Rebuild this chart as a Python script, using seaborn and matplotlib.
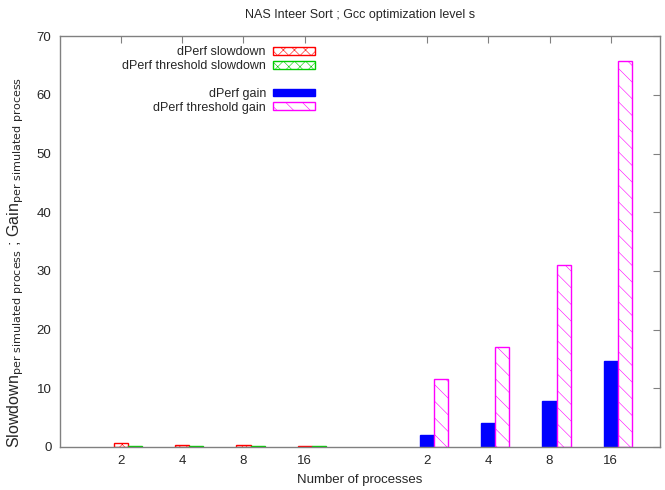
import numpy as np
import pandas as pd
import matplotlib
matplotlib.use("Agg")
import matplotlib.pyplot as plt
import seaborn as sns
from matplotlib.patches import Rectangle

title = "NAS Inteer Sort ; Gcc optimization level s"
xlabel = "Number of processes"
ylabel = r"Slowdown$_{\rm per\ simulated\ process}$ ; Gain$_{\rm per\ simulated\ process}$"

proc_labels = ["2", "4", "8", "16"]
slow_pos = [1, 2, 3, 4]
gain_pos = [6, 7, 8, 9]

slowdown = [0.6, 0.3, 0.35, 0.2]
threshold_slowdown = [0.1, 0.1, 0.1, 0.1]
gain = [2.0, 4.0, 7.8, 14.6]
threshold_gain = [11.6, 17.1, 31.0, 65.8]

sns.set_style("white")
plt.rcParams['font.family'] = ['Liberation Sans', 'DejaVu Sans']
plt.rcParams['hatch.linewidth'] = 0.4

fig = plt.figure(figsize=(6.65, 4.9), dpi=100)
ax = fig.add_axes([0.090, 0.088, 0.902, 0.838])

bw = 0.23
series = [
    ("dPerf slowdown", slow_pos, slowdown, 0.0, "white", "#ff0000", "xxx"),
    ("dPerf threshold slowdown", slow_pos, threshold_slowdown, bw, "white", "#00cc00", "xxx"),
    ("dPerf gain", gain_pos, gain, 0.0, "#0000ff", "#0000ff", None),
    ("dPerf threshold gain", gain_pos, threshold_gain, bw, "white", "#ff00ff", "\\\\"),
]

handles = []
for name, pos, vals, off, fc, ec, hatch in series:
    df = pd.DataFrame({"x": np.array(pos, dtype=float) + off, "y": vals})
    n0 = len(ax.patches)
    sns.barplot(data=df, x="x", y="y", native_scale=True, width=bw,
                errorbar=None, ax=ax, color=ec)
    for p in ax.patches[n0:]:
        p.set_facecolor(fc)
        p.set_edgecolor(ec)
        p.set_linewidth(1.0)
        if hatch:
            p.set_hatch(hatch)
    h = Rectangle((0, 0), 1, 1, facecolor=fc, edgecolor=ec, hatch=hatch, linewidth=1.0, label=name)
    handles.append(h)

blank = Rectangle((0, 0), 1, 1, visible=False, label=" ")
leg_handles = [handles[0], handles[1], blank, handles[2], handles[3]]
ax.legend(handles=leg_handles, loc="upper left", bbox_to_anchor=(0.087, 1.0),
          frameon=False, markerfirst=False, fontsize=9, handlelength=3.3,
          handleheight=0.6, labelspacing=0.15, handletextpad=0.6,
          borderaxespad=0.4)

ax.set_xlim(0, 9.8)
ax.set_ylim(0, 70)
ax.set_xticks(slow_pos + gain_pos)
ax.set_xticklabels(proc_labels + proc_labels)
ax.set_yticks(np.arange(0, 71, 10))
ax.tick_params(direction="in", length=5, width=0.8, color="#808080",
               top=True, right=True, labelsize=9.5, pad=6)
for s in ax.spines.values():
    s.set_color("#808080")
    s.set_linewidth(1.0)

ax.set_title(title, fontsize=9, pad=13)
ax.set_xlabel(xlabel, fontsize=9.5, labelpad=5)
ax.set_ylabel(ylabel, fontsize=11.5)
ax.yaxis.set_label_coords(-0.056, 0.45)

fig.savefig("out.png", dpi=100)
